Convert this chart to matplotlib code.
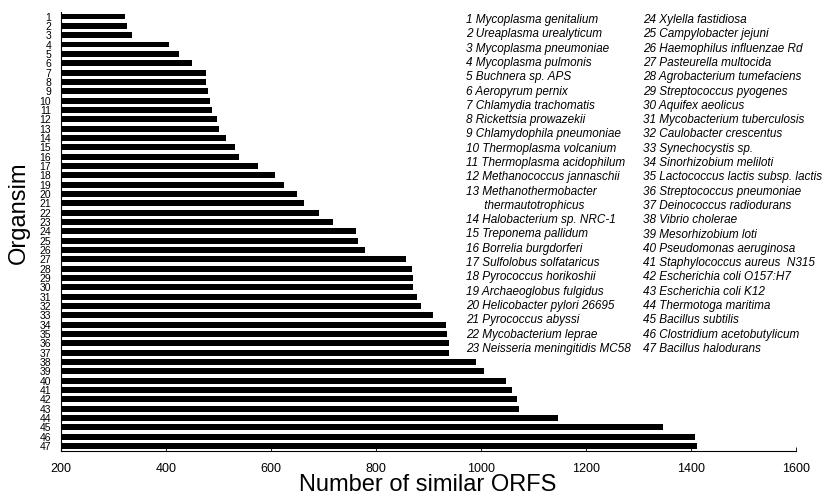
import matplotlib
matplotlib.use("Agg")
import matplotlib.pyplot as plt
from matplotlib import font_manager

organisms = [
    "Mycoplasma genitalium", "Ureaplasma urealyticum", "Mycoplasma pneumoniae",
    "Mycoplasma pulmonis", "Buchnera sp. APS", "Aeropyrum pernix",
    "Chlamydia trachomatis", "Rickettsia prowazekii", "Chlamydophila pneumoniae",
    "Thermoplasma volcanium", "Thermoplasma acidophilum", "Methanococcus jannaschii",
    "Methanothermobacter\nthermautotrophicus", "Halobacterium sp. NRC-1",
    "Treponema pallidum", "Borrelia burgdorferi", "Sulfolobus solfataricus",
    "Pyrococcus horikoshii", "Archaeoglobus fulgidus", "Helicobacter pylori 26695",
    "Pyrococcus abyssi", "Mycobacterium leprae", "Neisseria meningitidis MC58",
    "Xylella fastidiosa", "Campylobacter jejuni", "Haemophilus influenzae Rd",
    "Pasteurella multocida", "Agrobacterium tumefaciens", "Streptococcus pyogenes",
    "Aquifex aeolicus", "Mycobacterium tuberculosis", "Caulobacter crescentus",
    "Synechocystis sp.", "Sinorhizobium meliloti", "Lactococcus lactis subsp. lactis",
    "Streptococcus pneumoniae", "Deinococcus radiodurans", "Vibrio cholerae",
    "Mesorhizobium loti", "Pseudomonas aeruginosa", "Staphylococcus aureus  N315",
    "Escherichia coli O157:H7", "Escherichia coli K12", "Thermotoga maritima",
    "Bacillus subtilis", "Clostridium acetobutylicum", "Bacillus halodurans",
]

similar_orfs = [
    322, 325, 335, 406, 425, 449, 477, 477, 480, 484,
    487, 498, 501, 514, 531, 539, 575, 608, 625, 649,
    662, 692, 718, 761, 765, 779, 857, 868, 870, 871,
    878, 886, 908, 934, 936, 938, 938, 990, 1005, 1047,
    1058, 1068, 1073, 1147, 1347, 1407, 1412,
]

x_ticks = [200, 400, 600, 800, 1000, 1200, 1400, 1600]

installed = {f.name for f in font_manager.fontManager.ttflist}
narrow = "Liberation Sans Narrow" if "Liberation Sans Narrow" in installed else "Liberation Sans"

plt.rcParams["font.family"] = ["Liberation Sans", "DejaVu Sans"]

fig = plt.figure(figsize=(8.25, 4.97), dpi=100)
ax = fig.add_axes([0.0739, 0.0932, 0.8911, 0.8828])

ids = list(range(1, len(similar_orfs) + 1))
ax.barh(ids, [v - 200 for v in similar_orfs], left=200, height=0.62,
        color="black", edgecolor="none")

ax.set_xlim(200, 1600)
ax.set_ylim(47.5, 0.5)
ax.set_xticks(x_ticks)
ax.set_xticklabels([str(t) for t in x_ticks], family=narrow, fontsize=9)
ax.set_yticks(ids)
ax.set_yticklabels([str(i) for i in ids], family=narrow, fontsize=7.5)
ax.tick_params(axis="y", direction="in", length=2, width=0.6, pad=7)
ax.tick_params(axis="x", direction="in", length=3, width=0.6, pad=9)
for s in ["top", "right"]:
    ax.spines[s].set_visible(False)
for s in ["left", "bottom"]:
    ax.spines[s].set_linewidth(0.8)

fig.text(428 / 825, 1 - 485 / 497, "Number of similar ORFS", fontsize=17,
         ha="center", va="center")
fig.text(19 / 825, 1 - 213 / 497, "Organsim", fontsize=17, rotation=90,
         ha="center", va="center")

# two-column key of organism names
col_x = [466, 643]
y0, dy = 20, 14.3
lines = []
for i, name in enumerate(organisms, start=1):
    parts = name.split("\n")
    lines.append((i, parts[0], False))
    for p in parts[1:]:
        lines.append((i, p, True))
half = 24
for k, (i, txt, cont) in enumerate(lines):
    col = 0 if k < half else 1
    row = k if k < half else k - half
    y = y0 + row * dy
    if cont:
        fig.text((col_x[col] + 15) / 825, 1 - y / 497, " " + txt, fontsize=8.5,
                 style="italic", ha="left", va="center")
    else:
        fig.text(col_x[col] / 825, 1 - y / 497, f"{i} {txt}", fontsize=8.5,
                 style="italic", ha="left", va="center")

fig.savefig("out.png", dpi=100)
